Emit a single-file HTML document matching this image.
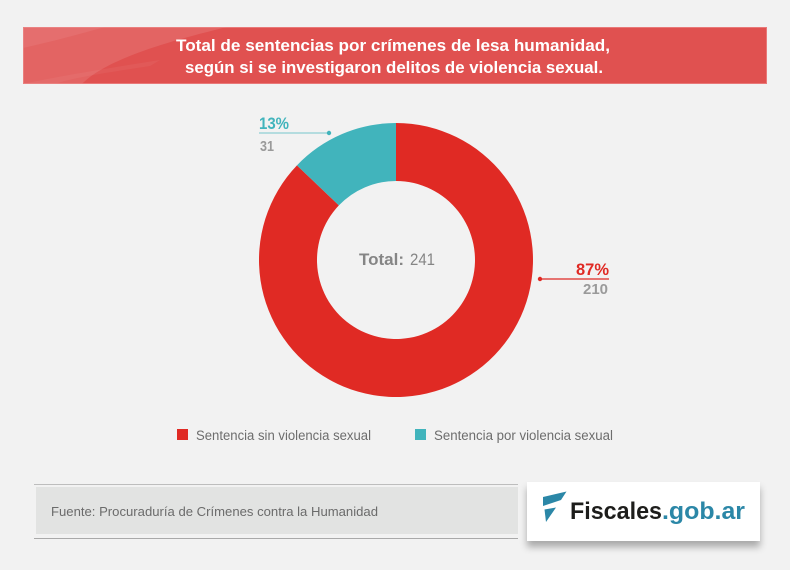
<!DOCTYPE html>
<html><head><meta charset="utf-8"><style>
html,body{margin:0;padding:0;background:#f2f2f2;}
body{width:790px;height:570px;position:relative;overflow:hidden;font-family:"Liberation Sans",sans-serif;}
.logo{position:absolute;left:527px;top:482px;width:233px;height:59px;background:#fff;box-shadow:0 6px 7px rgba(0,0,0,0.30);}
svg{position:absolute;left:0;top:0;}
</style></head><body>
<svg width="790" height="570" viewBox="0 0 790 570">
  <rect x="23" y="27" width="744" height="57" fill="#e05150"/>
  <path d="M23,27 L227,27 C165,42 105,60 82,84 L23,84 Z" fill="#ffffff" opacity="0.11"/>
  <path d="M23,27 L105,27 C80,34 50,42 23,48 Z" fill="#ffffff" opacity="0.07"/>
  <path d="M23,84 C60,76 110,68 160,60 L150,66 C110,72 70,78 55,84 Z" fill="#ffffff" opacity="0.05"/>
  <rect x="23.5" y="27.5" width="743" height="56" fill="none" stroke="#ec8a8a" stroke-width="1" opacity="0.7"/>
  <text x="393" y="51" font-family="Liberation Sans, sans-serif" font-weight="bold" font-size="16.5" fill="#fff" text-anchor="middle" textLength="434" lengthAdjust="spacingAndGlyphs">Total de sentencias por crímenes de lesa humanidad,</text>
  <text x="394" y="73" font-family="Liberation Sans, sans-serif" font-weight="bold" font-size="16.5" fill="#fff" text-anchor="middle" textLength="418" lengthAdjust="spacingAndGlyphs">según si se investigaron delitos de violencia sexual.</text>

  <path d="M396,123 A137,137 0 1 1 296.95,165.35 L338.88,205.42 A79,79 0 1 0 396,181 Z" fill="#e02a24"/>
  <path d="M396,123 A137,137 0 0 0 296.95,165.35 L338.88,205.42 A79,79 0 0 1 396,181 Z" fill="#41b4bc"/>

  <text x="359" y="265" font-family="Liberation Sans, sans-serif" font-size="17" fill="#858585"><tspan font-weight="bold" textLength="45" lengthAdjust="spacingAndGlyphs">Total:</tspan></text>
  <text x="410" y="265" font-family="Liberation Sans, sans-serif" font-size="17" fill="#858585" textLength="25" lengthAdjust="spacingAndGlyphs">241</text>

  <text x="259" y="129" font-family="Liberation Sans, sans-serif" font-weight="bold" font-size="17" fill="#41b4bc" textLength="30" lengthAdjust="spacingAndGlyphs">13%</text>
  <line x1="259" y1="133" x2="329" y2="133" stroke="#8fd0d4" stroke-width="1.2"/>
  <circle cx="329" cy="133" r="2.2" fill="#41b4bc"/>
  <text x="260" y="151" font-family="Liberation Sans, sans-serif" font-weight="bold" font-size="15" fill="#9a9a9a" textLength="14" lengthAdjust="spacingAndGlyphs">31</text>

  <text x="576" y="275" font-family="Liberation Sans, sans-serif" font-weight="bold" font-size="17" fill="#e02a24" textLength="33" lengthAdjust="spacingAndGlyphs">87%</text>
  <line x1="540" y1="279" x2="609" y2="279" stroke="#e02a24" stroke-width="1.2"/>
  <circle cx="540" cy="279" r="2.2" fill="#e02a24"/>
  <text x="583" y="294" font-family="Liberation Sans, sans-serif" font-weight="bold" font-size="15" fill="#9a9a9a" textLength="25" lengthAdjust="spacingAndGlyphs">210</text>

  <rect x="177" y="429" width="11" height="11" fill="#e02a24"/>
  <text x="196" y="440" font-family="Liberation Sans, sans-serif" font-size="13.5" fill="#6d6d6d" textLength="175" lengthAdjust="spacingAndGlyphs">Sentencia sin violencia sexual</text>
  <rect x="415" y="429" width="11" height="11" fill="#41b4bc"/>
  <text x="434" y="440" font-family="Liberation Sans, sans-serif" font-size="13.5" fill="#6d6d6d" textLength="179" lengthAdjust="spacingAndGlyphs">Sentencia por violencia sexual</text>

  <line x1="34" y1="484.5" x2="518" y2="484.5" stroke="#bdbdbd" stroke-width="1"/>
  <rect x="36" y="487" width="482" height="47" fill="#e2e3e2"/>
  <line x1="34" y1="538.5" x2="518" y2="538.5" stroke="#a9a9a9" stroke-width="1"/>
  <text x="51" y="516" font-family="Liberation Sans, sans-serif" font-size="12.5" fill="#6b6b6b" textLength="327" lengthAdjust="spacingAndGlyphs">Fuente: Procuraduría de Crímenes contra la Humanidad</text>
</svg>
<div class="logo"></div>
<svg width="790" height="570" viewBox="0 0 790 570">
  <path d="M543,497 L566.5,491.5 L561,500 L546,505 L543,506 Z" fill="#2b87a7"/>
  <path d="M544.5,509.5 L556,507.5 L546,522 Z" fill="#2b87a7"/>
  <text x="570" y="519" font-family="Liberation Sans, sans-serif" font-weight="bold" font-size="24" fill="#1d1d1b" textLength="92" lengthAdjust="spacingAndGlyphs">Fiscales</text>
  <text x="662" y="519" font-family="Liberation Sans, sans-serif" font-weight="bold" font-size="24" fill="#2b87a7" textLength="83" lengthAdjust="spacingAndGlyphs">.gob.ar</text>
</svg>
</body></html>
